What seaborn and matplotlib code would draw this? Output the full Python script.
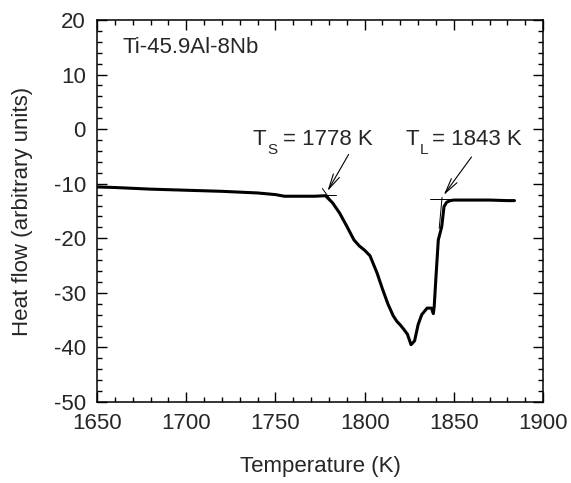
import matplotlib
matplotlib.use("Agg")
import matplotlib.pyplot as plt
import seaborn as sns
import numpy as np
import pandas as pd

# DSC curve
temperature = [1650, 1660, 1680, 1700, 1720, 1740, 1750, 1755, 1765, 1772, 1778,
               1782, 1786, 1790, 1794, 1797, 1800, 1803, 1807, 1810, 1813, 1816,
               1818, 1820, 1822, 1824, 1826, 1828, 1830, 1832, 1835, 1837.5, 1838.5,
               1839, 1840, 1841.3, 1843.2, 1844.5, 1846, 1848, 1850, 1860, 1870, 1880, 1884]
heat_flow = [-10.6, -10.7, -11.0, -11.2, -11.4, -11.7, -12.0, -12.3, -12.3, -12.3, -12.2,
             -13.5, -15.4, -17.8, -20.3, -21.4, -22.2, -23.2, -26.4, -29.3, -32.0, -34.2,
             -35.2, -35.9, -36.7, -37.6, -39.5, -38.8, -35.8, -34.0, -32.8, -32.8, -33.8,
             -32.5, -27.0, -20.3, -17.9, -14.2, -13.4, -13.1, -13.0, -13.0, -13.0, -13.1, -13.1]

alloy_label = "Ti-45.9Al-8Nb"
ts_value = 1778
tl_value = 1843

# tangent construction lines
ts_base_T = [1752, 1784]
ts_base_v = [-12.05, -12.05]
ts_tan_T = [1776.3, 1784]
ts_tan_v = [-10.9, -14.3]
tl_base_T = [1836.7, 1857.4]
tl_base_v = [-12.8, -12.8]
tl_tan_T = [1843.4, 1841.8]
tl_tan_v = [-12.5, -18.2]

# arrows (tail, head)
ts_arrow = ((1791.8, -4.2), (1778.4, -11.8))
tl_arrow = ((1860.8, -4.7), (1843.4, -12.5))

# label anchors (data coords of the "T" baseline-left)
ts_label_pos = (1737.4, -2.9)
tl_label_pos = (1823.0, -2.9)

sns.set_style("ticks")
plt.rcParams['font.family'] = ['Liberation Sans', 'DejaVu Sans']
plt.rcParams['axes.unicode_minus'] = False

fig = plt.figure(figsize=(5.71, 4.83), dpi=100)
ax = fig.add_axes([0.170, 0.1677, 0.781, 0.791])

df = pd.DataFrame({"T": temperature, "H": heat_flow})
sns.lineplot(data=df, x="T", y="H", ax=ax, color="black", linewidth=2.2, sort=False)

for xs, ys in [(ts_base_T, ts_base_v), (ts_tan_T, ts_tan_v), (tl_base_T, tl_base_v), (tl_tan_T, tl_tan_v)]:
    ax.plot(xs, ys, color="black", linewidth=0.7)

for (tail, head) in [ts_arrow, tl_arrow]:
    ax.annotate("", xy=head, xytext=tail,
                arrowprops=dict(arrowstyle="->,head_length=1.1,head_width=0.25", color="black", lw=0.8))


def temp_label(pos, sub, value, sub_dx, eq_dx):
    kw = dict(xycoords='data', textcoords='offset pixels', va='baseline', ha='left')
    ax.annotate("T", xy=pos, xytext=(0, 0), fontsize=16, **kw)
    ax.annotate(sub, xy=pos, xytext=(sub_dx, -9), fontsize=11, **kw)
    ax.annotate("= %d K" % value, xy=pos, xytext=(eq_dx, 0), fontsize=16, **kw)


temp_label(ts_label_pos, "S", ts_value, 14, 30)
temp_label(tl_label_pos, "L", tl_value, 14, 26)

ax.text(0.056, 0.927, alloy_label, transform=ax.transAxes, fontsize=16, va="center", ha="left")

ax.set_xlim(1650, 1900)
ax.set_ylim(-50, 20)
ax.set_xticks([1650, 1700, 1750, 1800, 1850, 1900])
ax.set_yticks([-50, -40, -30, -20, -10, 0, 10, 20])
ax.set_xticks(np.arange(1650, 1901, 10), minor=True)
ax.set_yticks(np.arange(-50, 21, 2), minor=True)
ax.tick_params(which='both', direction='in', top=True, right=True, labelsize=16, width=1.0, color='black')
ax.tick_params(which='major', length=7.2, pad=8)
ax.tick_params(which='minor', length=3.6)
for s in ax.spines.values():
    s.set_linewidth(1.1)
    s.set_color('black')
    s.set_visible(True)

ax.set_xlabel("Temperature (K)", fontsize=16, labelpad=16)
ax.set_ylabel("Heat flow (arbitrary units)", fontsize=16, labelpad=15)

fig.savefig("out.png", dpi=100)
